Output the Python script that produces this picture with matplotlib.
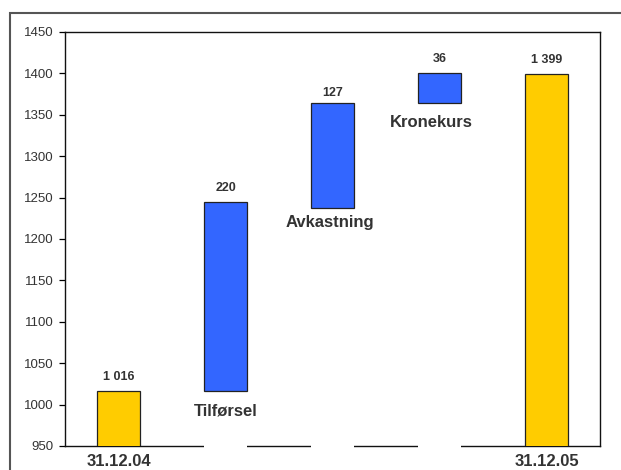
import matplotlib.pyplot as plt
from matplotlib.patches import Rectangle

plt.rcParams['font.family'] = ['Liberation Sans', 'DejaVu Sans']

kategorier = ['31.12.04', 'Tilførsel', 'Avkastning', 'Kronekurs', '31.12.05']
grunnlag = [0, 1016, 1237, 1364, 0]
hoyde = [1016, 229, 127, 36, 1399]
verdi_tekst = ['1 016', '220', '127', '36', '1 399']
farger = ['#FFCC00', '#3366FF', '#3366FF', '#3366FF', '#FFCC00']
x_etiketter = ['31.12.04', '', '', '', '31.12.05']
y_ticks = [950, 1000, 1050, 1100, 1150, 1200, 1250, 1300, 1350, 1400, 1450]

fig = plt.figure(figsize=(6.21, 4.70), dpi=100)
ax = fig.add_axes([65/621, 24/470, 535/621, 414/470])

x = list(range(len(kategorier)))
ymin, ymax = 950, 1450

# usynlige (hvite) grunnstolper, dekker x-aksen slik som i originalen
bunn = ymin - 3
for i in x:
    if grunnlag[i] > 0:
        ax.bar(i, grunnlag[i] - bunn, bottom=bunn, width=0.41, color='white',
               edgecolor='none', zorder=3, clip_on=False)
ax.bar(x, hoyde, bottom=grunnlag, width=0.41, color=farger,
       edgecolor='#222222', linewidth=0.9, zorder=4)

ax.set_xlim(-0.5, 4.5)
ax.set_ylim(ymin, ymax)
ax.set_yticks(y_ticks)
ax.tick_params(axis='y', direction='out', length=4, width=0.9, pad=4,
               labelsize=9.5, labelcolor='#333333')
ax.set_xticks(x)
ax.set_xticklabels(x_etiketter, fontsize=12, fontweight='bold', color='#333333')
ax.tick_params(axis='x', length=0, pad=6)
for s in ax.spines.values():
    s.set_linewidth(1.0)
    s.set_color('#111111')

# verdier over stolpene
forskyv = [8, 8, 5, 8, 8]
for i in x:
    topp = grunnlag[i] + hoyde[i]
    ax.annotate(verdi_tekst[i], (i, topp), xytext=(0, forskyv[i]),
                textcoords='offset points', ha='center', va='baseline',
                fontsize=9, fontweight='bold', color='#333333', zorder=5)

# navn under de blaa stolpene
navn_pos = {1: (0, -14), 2: (-2, -10), 3: (-6, -14)}
for i, (dx, dy) in navn_pos.items():
    ax.annotate(kategorier[i], (i, grunnlag[i]), xytext=(dx, dy),
                textcoords='offset points', ha='center', va='center',
                fontsize=12, fontweight='bold', color='#333333', zorder=5)

# ytre ramme
fig.add_artist(Rectangle((10/621, -0.2), 1.2, 0.2 + 1 - 13/470,
                         transform=fig.transFigure, fill=False,
                         edgecolor='#555555', linewidth=1.5))

fig.savefig('out.png', dpi=100)
